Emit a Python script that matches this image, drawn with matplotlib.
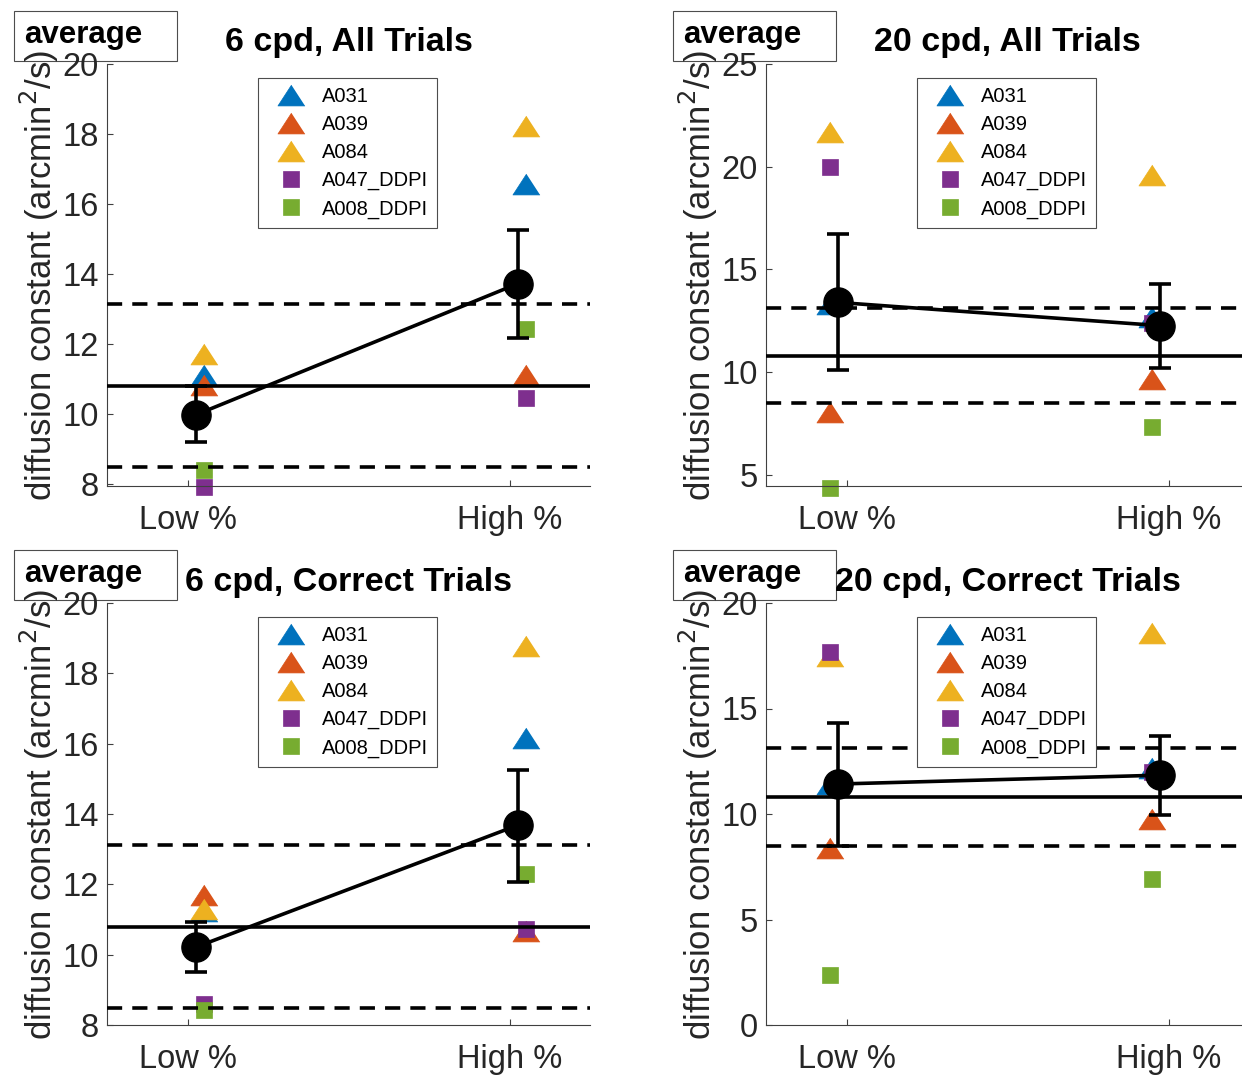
import matplotlib.pyplot as plt
from matplotlib.patches import Rectangle

plt.rcParams['font.family'] = ['Liberation Sans', 'DejaVu Sans']

conditions = ['Low %', 'High %']
subjects = ['A031', 'A039', 'A084', 'A047_DDPI', 'A008_DDPI']
colors = ['#0072BD', '#D95319', '#EDB120', '#7E2F8E', '#77AC30']
titles = ['6 cpd, All Trials', '20 cpd, All Trials',
          '6 cpd, Correct Trials', '20 cpd, Correct Trials']

# per subject values (low, high) for each panel
six_all = [[11.11, 16.58], [10.82, 11.10], [11.72, 18.23], [7.91, 10.46], [8.41, 12.44]]
twenty_all = [[13.30, 12.70], [8.07, 9.65], [21.70, 19.60], [19.96, 12.40], [4.37, 7.33]]
six_corr = [[11.25, 16.16], [11.70, 10.67], [11.31, 18.78], [8.59, 10.72], [8.44, 12.30]]
twenty_corr = [[11.40, 12.17], [8.37, 9.75], [17.50, 18.58], [17.70, 11.98], [2.39, 6.90]]

# group mean and error bar ends
means = [[9.97, 13.72], [13.39, 12.26], [10.21, 13.68], [11.42, 11.84]]
err_low = [[9.20, 12.18], [10.08, 10.21], [9.50, 12.08], [8.47, 9.94]]
err_high = [[10.79, 15.25], [16.70, 14.28], [10.94, 15.26], [14.29, 13.69]]

# reference lines (average and bounds)
ref_avg = 10.8
ref_hi = 13.13
ref_lo = 8.48

ylims = [(7.94, 20), (4.45, 25), (8, 20), (0, 20)]
yticks = [range(8, 21, 2), range(5, 26, 5), range(8, 21, 2), range(0, 21, 5)]

panels = [six_all, twenty_all, six_corr, twenty_corr]

tri = [(0, 0.77), (-1, -0.77), (1, -0.77)]
markers = [tri, tri, tri, 's', 's']
msizes = [19.5, 19.5, 19.5, 11.5, 11.5]

fig = plt.figure(figsize=(12.42, 10.76), dpi=100)
W, H = 1242, 1076
boxes = [(107, 64), (766, 64), (107, 603), (766, 603)]

for i, vals in enumerate(panels):
    left, top = boxes[i]
    ax = fig.add_axes([left / W, 1 - (top + 422) / H, 483 / W, 422 / H])
    right_col = i % 2 == 1
    off_s = -0.05 if right_col else 0.05
    off_m = -0.027 if right_col else 0.025

    for j, name in enumerate(subjects):
        ax.plot([1 + off_s, 2 + off_s], vals[j], linestyle='none',
                marker=markers[j], ms=msizes[j], color=colors[j],
                mec=colors[j], mew=0.5, label=name, zorder=2, clip_on=False)

    ax.axhline(ref_avg, color='k', lw=2.6, zorder=3)
    ax.axhline(ref_hi, color='k', lw=2.6, ls=(0, (4.2, 2.8)), zorder=3)
    ax.axhline(ref_lo, color='k', lw=2.6, ls=(0, (4.2, 2.8)), zorder=3)

    m = means[i]
    yerr = [[m[0] - err_low[i][0], m[1] - err_low[i][1]],
            [err_high[i][0] - m[0], err_high[i][1] - m[1]]]
    ax.errorbar([1 + off_m, 2 + off_m], m, yerr=yerr, fmt='-o', color='k',
                ms=21, lw=2.6, elinewidth=2.6, capsize=8, capthick=2.6,
                zorder=4)

    ax.set_xlim(0.75, 2.25)
    ax.set_ylim(*ylims[i])
    ax.set_xticks([1, 2])
    ax.set_xticklabels(conditions)
    ax.set_yticks(list(yticks[i]))
    ax.tick_params(direction='in', length=4, width=0.8, color='0.25',
                   labelsize=23.5, labelcolor='0.15')
    ax.tick_params(axis='y', pad=6)
    ax.tick_params(axis='x', pad=14)
    for s in ['top', 'right']:
        ax.spines[s].set_visible(False)
    for s in ['left', 'bottom']:
        ax.spines[s].set_color('0.25')
        ax.spines[s].set_linewidth(0.8)

    ax.set_ylabel('diffusion constant (arcmin$^2$/s)', fontsize=25,
                  color='0.15')
    ax.yaxis.set_label_coords(-0.095, 0.5)
    ax.set_title(titles[i], fontsize=24.5, fontweight='bold', pad=9)

    leg = ax.legend(loc='upper left', bbox_to_anchor=(0.313, 0.967),
                    fontsize=14.5, frameon=True, fancybox=False,
                    borderpad=0.45, labelspacing=0.45, handlelength=2.4,
                    handletextpad=0.3, borderaxespad=0, framealpha=1)
    leg.get_frame().set_edgecolor('0.3')
    leg.get_frame().set_linewidth(0.8)

    ax.add_patch(Rectangle((-0.1925, 1.0071), 0.3375, 0.118,
                           transform=ax.transAxes, fill=False,
                           edgecolor='0.3', lw=0.8, clip_on=False))
    ax.text(-0.1718, 1.0496, 'average', transform=ax.transAxes,
            fontsize=22.5, fontweight='bold', va='baseline', ha='left')

fig.savefig('out.png', dpi=100)
